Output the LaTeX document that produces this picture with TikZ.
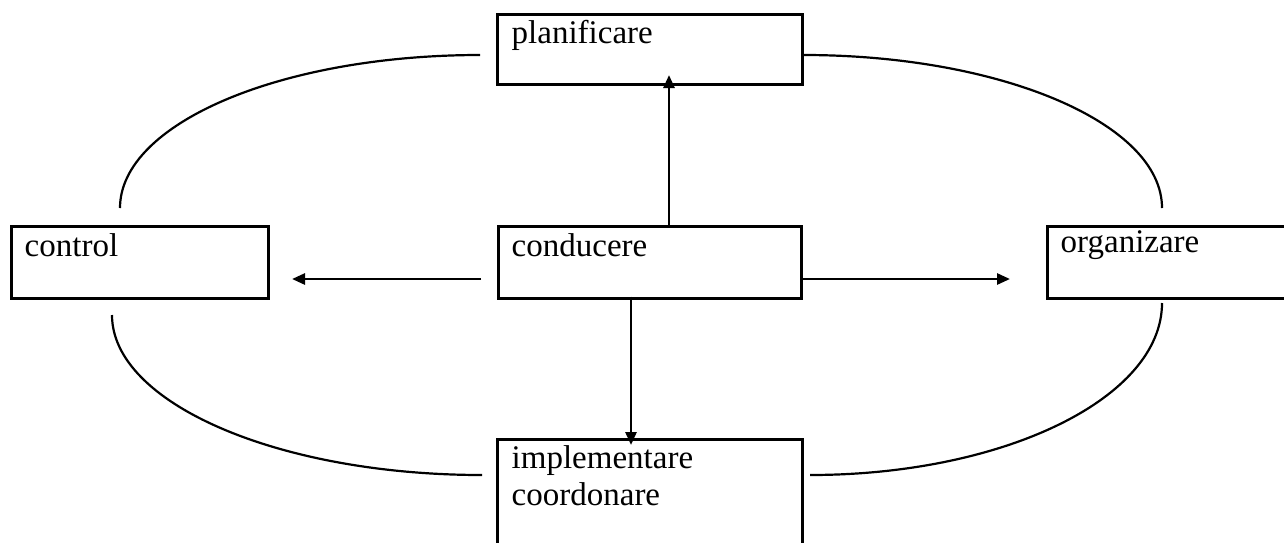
\documentclass[tikz,border=0pt]{standalone}
\usepackage{fontspec}
\setmainfont{Liberation Serif}
\usetikzlibrary{arrows.meta,calc}
\tikzset{
  box/.style={draw=black, line width=3pt, rectangle, inner sep=0pt, fill=white},
  lbl/.style={anchor=base west, inner sep=0pt, font=\fontsize{33}{37}\selectfont},
  arr/.style={line width=2.7pt, -{Triangle[length=13pt,width=11pt]}},
  arc/.style={line width=2.2pt}
}
\begin{document}
\begin{tikzpicture}[x=1pt,y=-1pt]
\useasboundingbox (0,0) rectangle (1284,542);
\clip (0,0) rectangle (1284,542);
\fill[white] (0,0) rectangle (1284,542);
% boxes
\node[box, minimum width=305pt, minimum height=70pt] (plan) at (649.5,49) {};
\node[box, minimum width=303pt, minimum height=72pt] (cond) at (649.5,262) {};
\node[box, minimum width=257pt, minimum height=72pt] (ctrl) at (139.5,262) {};
\node[box, minimum width=250pt, minimum height=72pt] (org) at (1172,262) {};
\node[box, minimum width=305pt, minimum height=125pt] (impl) at (649.5,501.5) {};
% labels
\node[lbl] (tplan) at ($(plan.north west)+(16,31)$) {planificare};
\node[lbl] (tcond) at ($(cond.north west)+(15,32)$) {conducere};
\node[lbl] (tctrl) at ($(ctrl.north west)+(15,32)$) {control};
\node[lbl] (torg) at ($(org.north west)+(15,28)$) {organizare};
\node[lbl] (timpl) at ($(impl.north west)+(16,31)$) {implementare};
\node[lbl] (timpl2) at ($(impl.north west)+(16,68)$) {coordonare};
% arrow coordinates
\coordinate (upT) at (669,75);
\coordinate (lS) at (481,279);
\coordinate (lT) at (292,279);
\coordinate (rT) at (1010,279);
\coordinate (dT) at (631,445);
\draw[arr] (cond.north -| upT) -- (upT);
\draw[arr] (lS) -- (lT);
\draw[arr] (cond.east |- rT) -- (rT);
\draw[arr] ($(cond.south -| dT)+(0,-3)$) -- (dT);
% arcs
\coordinate (tlA) at (120,208);
\coordinate (tlB) at (480,55);
\coordinate (blA) at (112,315);
\coordinate (blB) at (482,475);
\coordinate (trB) at (1162,208);
\coordinate (brA) at (810,475);
\coordinate (brB) at (1162,303);
\draw[arc] (tlA) .. controls (120,123.5) and (281,55) .. (tlB);
\draw[arc] (blA) .. controls (112,403) and (278,475) .. (blB);
\draw[arc] (plan.east |- tlB) .. controls (1001,55) and (1162,123.5) .. (trB);
\draw[arc] (brA) .. controls (1004,475) and (1162,398) .. (brB);
\end{tikzpicture}
\end{document}
